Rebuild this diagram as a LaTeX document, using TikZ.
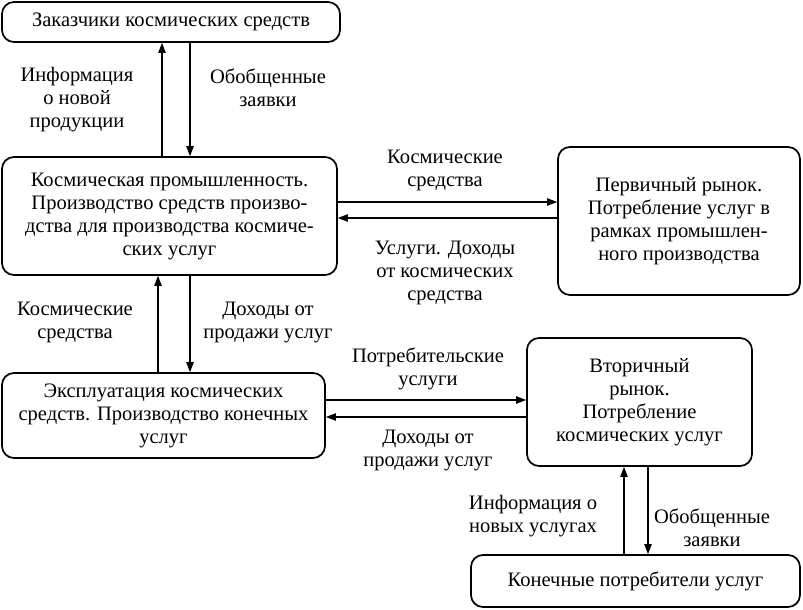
\documentclass[tikz,border=0pt]{standalone}
\usepackage{fontspec}
\setmainfont{Liberation Serif}
\usepackage{tikz}
\usetikzlibrary{arrows.meta,positioning,calc}

\begin{document}
\begin{tikzpicture}[
        x=0.75pt, y=-0.75pt,
        every node/.style={font=\fontsize{15.4}{17.25}\selectfont, inner sep=0pt},
        block/.style={draw, rounded corners=9pt, line width=1.3pt, align=center},
        lbl/.style={align=center},
        flow/.style={-{Triangle[length=7.5pt,width=5.5pt]}, line width=0.9pt},
    ]
        \useasboundingbox (0,0) rectangle (803,610);

        % boxes
        \node[block, minimum width=253.5pt, minimum height=30pt] (zak) at (171,22) {Заказчики космических средств};
        \node[block, minimum width=251.25pt, minimum height=88.5pt] (prom) at (169.5,216)
            {Космическая промышленность.\\Производство средств произво-\\дства для производства космиче-\\ских услуг};
        \node[block, minimum width=181.5pt, minimum height=111pt] (perv) at (679,221)
            {Первичный рынок.\\Потребление услуг в\\рамках промышлен-\\ного производства};
        \node[block, minimum width=242.25pt, minimum height=63.75pt] (eksp) at (163.5,415.5)
            {Эксплуатация космических\\средств. Производство конечных\\услуг};
        \node[block, minimum width=168.75pt, minimum height=96pt] (vtor) at (639.5,402)
            {Вторичный\\рынок.\\Потребление\\космических услуг};
        \node[block, minimum width=246.75pt, minimum height=39pt] (kon) at (635.5,581) {Конечные потребители услуг};

        % connectors
        \draw[flow] (prom.north -| 162,0) -- (zak.south -| 162,0);
        \draw[flow] (zak.south -| 190,0) -- (prom.north -| 190,0);
        \draw[flow] (prom.east |- 0,202) -- (perv.west |- 0,202);
        \draw[flow] (perv.west |- 0,218) -- (prom.east |- 0,218);
        \draw[flow] (eksp.north -| 158,0) -- (prom.south -| 158,0);
        \draw[flow] (prom.south -| 190,0) -- (eksp.north -| 190,0);
        \draw[flow] (eksp.east |- 0,400) -- (vtor.west |- 0,400);
        \draw[flow] (vtor.west |- 0,417) -- (eksp.east |- 0,417);
        \draw[flow] (kon.north -| 624,0) -- (vtor.south -| 624,0);
        \draw[flow] (vtor.south -| 648,0) -- (kon.north -| 648,0);

        % labels
        \node[lbl] (infoprod) at (77,100) {Информация\\о новой\\продукции};
        \node[lbl] (zayav1) at (268,88) {Обобщенные\\заявки};
        \node[lbl] (ksred1) at (445,170) {Космические\\средства};
        \node[lbl] (uslugi) at (445,273) {Услуги. Доходы\\от космических\\средства};
        \node[lbl] (ksred2) at (75,322) {Космические\\средства};
        \node[lbl] (dohod1) at (268,322) {Доходы от\\продажи услуг};
        \node[lbl] (potreb) at (428,369) {Потребительские\\услуги};
        \node[lbl] (dohod2) at (428,450) {Доходы от\\продажи услуг};
        \node[lbl] (infousl) at (533,516) {Информация о\\новых услугах};
        \node[lbl] (zayav2) at (712,528) {Обобщенные\\заявки};
    \end{tikzpicture}
\end{document}
